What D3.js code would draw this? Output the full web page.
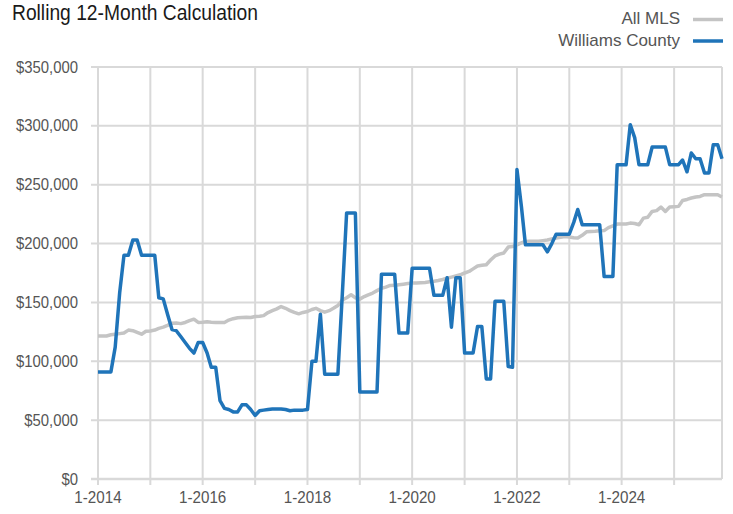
<!DOCTYPE html>
<html>
<head>
<meta charset="utf-8">
<script src="https://cdn.jsdelivr.net/npm/d3@7"></script>
<style>
	body { margin: 0; background: #fff; }
	svg { display: block; font-family: "Liberation Sans", Arial, sans-serif; }
</style>
</head>
<body>
<svg></svg>
<script>
// monthly rolling 12-month values, 1-2014 .. 12-2025
const allMls = [
	121500, 121500, 121500, 122500, 123000, 123500, 124000, 126500, 126000, 124500, 123000, 125500,
	125800, 126500, 128000, 129000, 130500, 132400, 132500, 132000, 133000, 134500, 135800, 133000,
	133200, 133500, 133200, 133000, 133000, 133000, 135000, 136200, 137000, 137200, 137400, 137200,
	138000, 138200, 138800, 141400, 143000, 144500, 146500, 145000, 143000, 141500, 140300, 141500,
	142300, 144000, 145000, 143000, 141700, 143000, 145000, 147400, 152000, 154000, 156500, 154000,
	152800, 155000, 156500, 158000, 160000, 162000, 163000, 164400, 164500, 165000, 165500, 166000,
	166400, 166500, 166800, 167000, 167500, 168000, 168600, 169500, 170600, 171500, 172500, 173500,
	175000, 176300, 178500, 181000, 181500, 182000, 186000, 189500, 191000, 192000, 197000, 197500,
	199000, 200500, 201800, 202000, 202000, 202000, 202500, 203000, 204000, 204700, 205300, 206000,
	205500, 205000, 204700, 207000, 210000, 210300, 210500, 210800, 211000, 213500, 215000, 216600,
	216600, 216600, 217400, 217000, 216000, 221600, 222400, 227300, 228000, 231000, 227300, 231000,
	231300, 231600, 236600, 237500, 238700, 239500, 240000, 241500, 241500, 241500, 241500, 239500
];

const williams = [
	91000, 91000, 91000, 91000, 112000, 158000, 190000, 190000, 203000, 203000, 190000, 190000,
	190000, 190000, 154000, 153000, 140000, 127000, 126000, 121000, 116000, 111000, 107000, 116000,
	116000, 107000, 95000, 95000, 66500, 60000, 59000, 57000, 57000, 63000, 63000, 59000,
	54000, 58000, 58500, 59000, 59500, 59500, 59500, 59000, 58000, 58500, 58500, 58500,
	59000, 100000, 100000, 140000, 89000, 89000, 89000, 89000, 157000, 226000, 226000, 226000,
	74000, 74000, 74000, 74000, 74000, 174000, 174000, 174000, 174000, 124000, 124000, 124000,
	179000, 179000, 179000, 179000, 179000, 156000, 156000, 156000, 171000, 129000, 171000, 171000,
	107000, 107000, 107000, 129500, 129500, 85000, 85000, 151000, 151000, 151000, 95500, 95000,
	263000, 231500, 199000, 199000, 199000, 199000, 199000, 193000, 200000, 208000, 208000, 208000,
	208000, 218000, 229000, 216000, 216000, 216000, 216000, 216000, 172000, 172000, 172000, 267000,
	267000, 267000, 301000, 290000, 267000, 267000, 267000, 282000, 282000, 282000, 282000, 267000,
	267000, 267000, 271000, 261000, 277000, 272000, 272000, 260000, 260000, 284000, 284000, 272000
];

const months = d3.timeMonth.range(new Date(2014, 0, 1), new Date(2026, 0, 1));
const yTicks = [0, 50000, 100000, 150000, 200000, 250000, 300000, 350000];
const xTickLabels = ["1-2014", "1-2016", "1-2018", "1-2020", "1-2022", "1-2024"];
const seriesNames = ["All MLS", "Williams County"];
const seriesColors = ["#c4c4c4", "#1f74b9"];

const width = 733;
const height = 514;
const svg = d3.select("svg").attr("width", width).attr("height", height);

const x = d3.scaleTime()
	.domain([months[0], months[months.length - 1]])
	.range([98, 722]);

const y = d3.scaleLinear()
	.domain([0, 350000])
	.range([479, 67]);

const gridColor = "#d9d9d9";
const years = d3.timeYear.range(new Date(2014, 0, 1), new Date(2026, 0, 1));

// grid
svg.append("g")
	.selectAll("line")
	.data(years)
	.join("line")
	.attr("x1", d => x(d))
	.attr("x2", d => x(d))
	.attr("y1", y(350000))
	.attr("y2", y(0) + 6)
	.attr("stroke", gridColor)
	.attr("stroke-width", 2);

svg.append("line")
	.attr("x1", x.range()[1])
	.attr("x2", x.range()[1])
	.attr("y1", y(350000))
	.attr("y2", y(0))
	.attr("stroke", gridColor)
	.attr("stroke-width", 2);

svg.append("g")
	.selectAll("line")
	.data(yTicks)
	.join("line")
	.attr("x1", 91)
	.attr("x2", x.range()[1])
	.attr("y1", d => y(d))
	.attr("y2", d => y(d))
	.attr("stroke", gridColor)
	.attr("stroke-width", d => d === 0 ? 2.5 : 2);

// axis labels (squeezed a bit, the original font is condensed)
const fmt = d3.format("$,.0f");
svg.append("g")
	.selectAll("text")
	.data(yTicks)
	.join("text")
	.attr("transform", d => `translate(78, ${y(d)}) scale(0.93, 1)`)
	.attr("dy", "0.35em")
	.attr("text-anchor", "end")
	.attr("font-size", 16)
	.attr("fill", "#555")
	.text(d => fmt(d));

const parseTick = d3.timeParse("%m-%Y");
svg.append("g")
	.selectAll("text")
	.data(xTickLabels)
	.join("text")
	.attr("transform", d => `translate(${x(parseTick(d.padStart(7, "0")))}, 503) scale(0.95, 1)`)
	.attr("text-anchor", "middle")
	.attr("font-size", 16)
	.attr("fill", "#555")
	.text(d => d);

// lines
const line = d3.line()
	.x((d, i) => x(months[i]))
	.y(d => y(d));

[allMls, williams].forEach((series, i) => {
	svg.append("path")
		.datum(series)
		.attr("d", line)
		.attr("fill", "none")
		.attr("stroke", seriesColors[i])
		.attr("stroke-width", 3.5)
		.attr("stroke-linejoin", "round");
});

// title
svg.append("text")
	.attr("transform", "translate(12, 20) scale(0.875, 1)")
	.attr("font-size", 22)
	.attr("fill", "#1a1a1a")
	.text("Rolling 12-Month Calculation");

// legend
const legend = svg.append("g")
	.selectAll("g")
	.data(seriesNames)
	.join("g")
	.attr("transform", (d, i) => `translate(0, ${18.5 + i * 21.5})`);

legend.append("text")
	.attr("x", 680)
	.attr("dy", "0.35em")
	.attr("text-anchor", "end")
	.attr("font-size", 17)
	.attr("fill", "#555")
	.text(d => d);

legend.append("line")
	.attr("x1", 693)
	.attr("x2", 723)
	.attr("y1", 1)
	.attr("y2", 1)
	.attr("stroke", (d, i) => seriesColors[i])
	.attr("stroke-width", 3.5);
</script>
</body>
</html>
